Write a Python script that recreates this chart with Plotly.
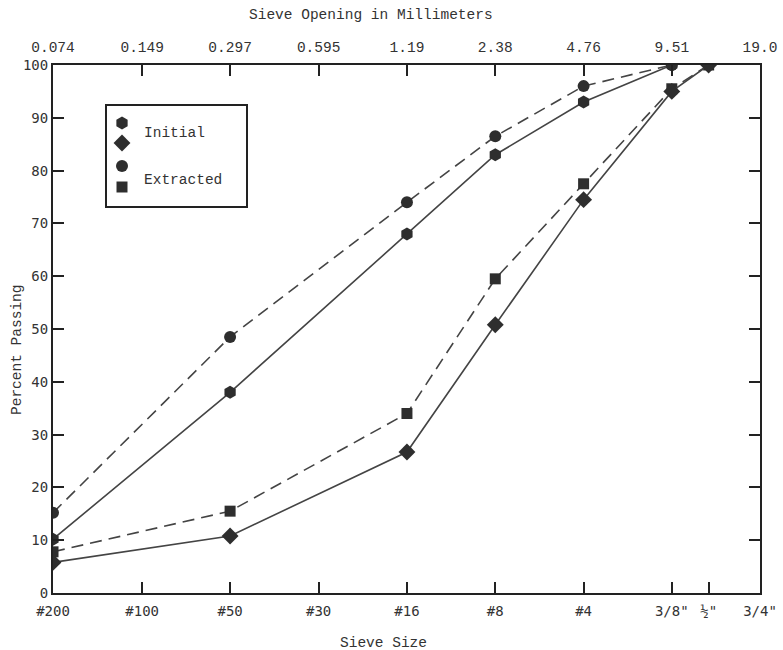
import plotly.graph_objects as go

# Sieve data (opening in mm) and labels
sieve_mm = [0.074, 0.149, 0.297, 0.595, 1.19, 2.38, 4.76, 9.51, 12.7, 19.0]
sieve_names = ["#200", "#100", "#50", "#30", "#16", "#8", "#4", "3/8\"", "½\"", "3/4\""]
top_mm = [0.074, 0.149, 0.297, 0.595, 1.19, 2.38, 4.76, 9.51, 19.0]
top_labels = ["0.074", "0.149", "0.297", "0.595", "1.19", "2.38", "4.76", "9.51", "19.0"]

# Mix A (circles)
mixA_sieves = [0.074, 0.297, 1.19, 2.38, 4.76, 9.51]
mixA_initial = [10.2, 38, 68, 83, 93, 100]
mixA_extracted = [15.2, 48.5, 74, 86.5, 96, 100]

# Mix B (diamonds / squares)
mixB_sieves = [0.074, 0.297, 1.19, 2.38, 4.76, 9.51, 12.7]
mixB_initial = [5.8, 10.8, 26.7, 50.8, 74.5, 95, 100]
mixB_extracted = [7.8, 15.5, 34, 59.5, 77.5, 95.5, 100]

# legend glyph layout (pixel coordinates on helper axes)
legend_symbols = ["hexagon", "diamond", "circle", "square"]
legend_sizes = [13, 13, 12, 11]
legend_px_x = [122, 122, 122, 122]
legend_px_y = [123, 143, 166, 187]

MK = "#2e2e2e"
LN = "#444444"
DASH = "12px,7px"
L, R, T, B = 53, 760, 65, 593
PW, PH = R - L, B - T


def px(x):
    return (x - L) / PW


def py(y):
    return (B - y) / PH


fig = go.Figure()

fig.add_trace(go.Scatter(x=mixA_sieves, y=mixA_extracted, mode="lines+markers",
                         line=dict(color=LN, width=1.6, dash=DASH),
                         marker=dict(symbol="circle", size=12, color=MK)))
fig.add_trace(go.Scatter(x=mixA_sieves, y=mixA_initial, mode="lines+markers",
                         line=dict(color=LN, width=1.6),
                         marker=dict(symbol="hexagon", size=13, color=MK)))
fig.add_trace(go.Scatter(x=mixB_sieves, y=mixB_extracted, mode="lines+markers",
                         line=dict(color=LN, width=1.6, dash=DASH),
                         marker=dict(symbol="square", size=11, color=MK)))
fig.add_trace(go.Scatter(x=mixB_sieves, y=mixB_initial, mode="lines+markers",
                         line=dict(color=LN, width=1.6),
                         marker=dict(symbol="diamond", size=13, color=MK)))

# legend markers on helper pixel axes (one trace per glyph)
for sym, sz, gx, gy in zip(legend_symbols, legend_sizes, legend_px_x, legend_px_y):
    fig.add_trace(go.Scatter(x=[gx], y=[gy], mode="markers",
                             xaxis="x3", yaxis="y3", opacity=1,
                             marker=dict(symbol=sym, size=sz, color=MK, opacity=1),
                             hoverinfo="skip"))

# dummy trace to activate top axis
fig.add_trace(go.Scatter(x=[0.074], y=[None], xaxis="x2", showlegend=False, hoverinfo="skip"))

xr = [-1.1308, 1.2788]
tick_font = dict(family="DejaVu Sans Mono", size=14, color="#333")
title_font = dict(family="Liberation Mono", size=14.5, color="#333")

fig.update_layout(
    width=783, height=650,
    margin=dict(l=L, r=783 - R, t=T, b=650 - B),
    paper_bgcolor="white", plot_bgcolor="white",
    showlegend=False,
    xaxis=dict(type="log", range=xr, tickvals=sieve_mm, ticktext=sieve_names,
               ticks="inside", ticklen=11, tickwidth=2, tickcolor="#222",
               showline=True, linecolor="#222", linewidth=2, mirror=True,
               showgrid=False, zeroline=False, automargin=False,
               ticklabelstandoff=4, tickfont=tick_font),
    xaxis2=dict(type="log", range=xr, overlaying="x", side="top",
                tickvals=top_mm, ticktext=top_labels,
                ticks="inside", ticklen=11, tickwidth=2, tickcolor="#222",
                showgrid=False, zeroline=False, automargin=False,
                ticklabelstandoff=9,
                tickfont=dict(family="Liberation Mono", size=14.5, color="#333")),
    yaxis=dict(range=[0, 100], dtick=10, ticks="inside", ticklen=11, tickwidth=2,
               tickcolor="#222", showline=True, linecolor="#222", linewidth=2,
               mirror="ticks", showgrid=False, zeroline=False, automargin=False,
               tickfont=tick_font),
    xaxis3=dict(range=[L, R], overlaying="x", visible=False, fixedrange=True),
    yaxis3=dict(range=[B, T], overlaying="y", visible=False, fixedrange=True),
)

# axis titles
fig.add_annotation(xref="paper", yref="paper", x=px(371), y=py(15),
                   text="Sieve Opening in Millimeters", showarrow=False,
                   xanchor="center", yanchor="middle", font=title_font)
fig.add_annotation(xref="paper", yref="paper", x=px(383), y=py(643),
                   text="Sieve Size", showarrow=False,
                   xanchor="center", yanchor="middle", font=title_font)
fig.add_annotation(xref="paper", yref="paper", x=px(17), y=py(350),
                   text="Percent Passing", showarrow=False, textangle=-90,
                   xanchor="center", yanchor="middle", font=title_font)

# legend box
fig.add_shape(type="rect", xref="paper", yref="paper",
              x0=px(106), x1=px(247), y0=py(207), y1=py(105),
              line=dict(color="#222", width=2), fillcolor="rgba(0,0,0,0)")
fig.add_annotation(xref="paper", yref="paper", x=px(142), y=py(133),
                   text="Initial", showarrow=False, xanchor="left", yanchor="middle",
                   font=title_font)
fig.add_annotation(xref="paper", yref="paper", x=px(142), y=py(180),
                   text="Extracted", showarrow=False, xanchor="left", yanchor="middle",
                   font=title_font)

fig.write_html("out.html")
